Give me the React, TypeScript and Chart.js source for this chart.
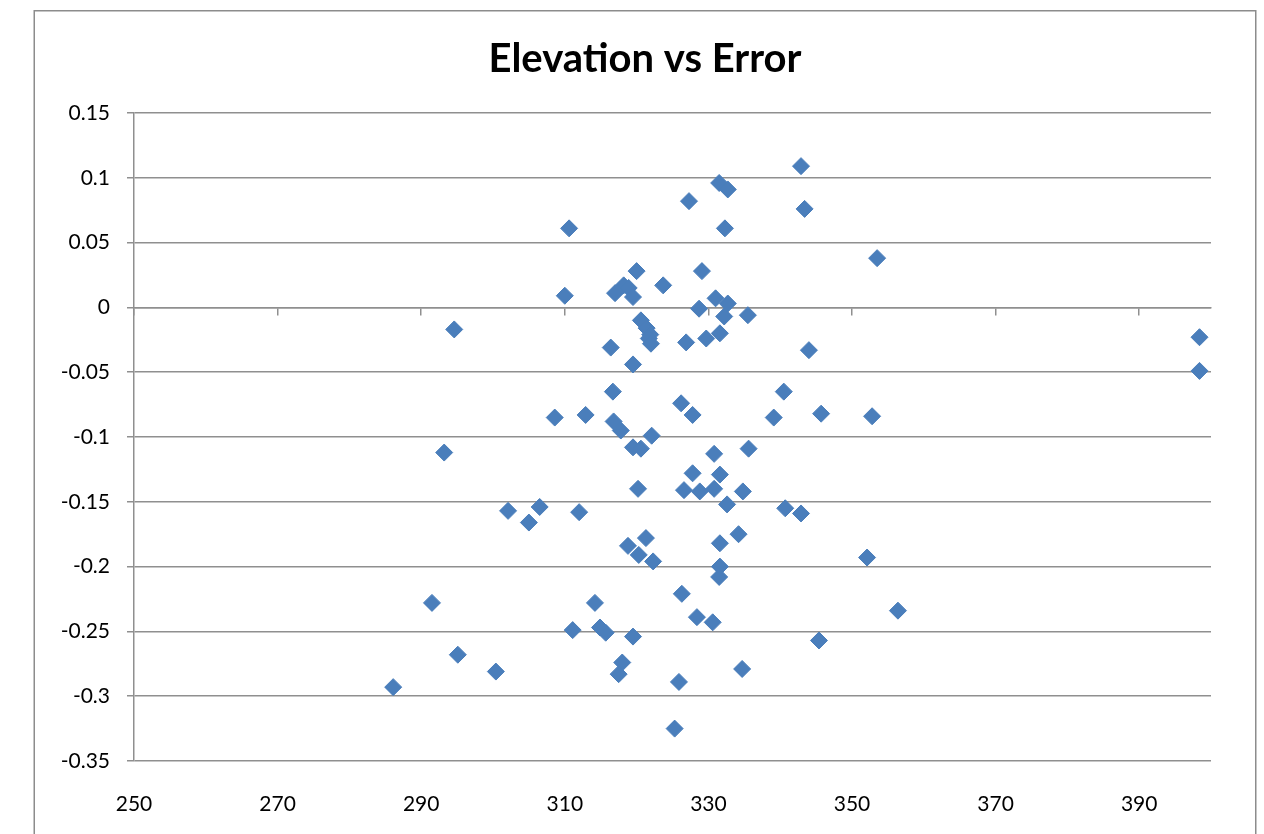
import React, { useEffect, useRef } from "react";
import { Chart, registerables } from "chart.js";

Chart.register(...registerables);

const chartTitle = "Elevation vs Error";

const elevation = [
  286.1, 291.5, 293.2, 294.6, 295.1, 300.4, 302.1, 305.0, 306.5, 308.6,
  310.0, 310.6, 311.1, 312.0, 312.9, 314.2, 314.9, 315.7, 316.4, 316.7,
  316.8, 317.0, 317.8, 318.0, 317.5, 318.2, 318.8, 318.9, 319.5, 319.5,
  319.5, 319.5, 320.0, 320.2, 320.3, 320.6, 320.6, 321.4, 321.3, 321.9,
  321.7, 322.0, 322.1, 322.3, 323.7, 325.3, 325.9, 326.3, 326.2, 326.6,
  326.9, 327.3, 327.8, 327.8, 328.4, 328.7, 328.8, 329.1, 329.7, 330.8,
  330.6, 330.8, 331.0, 331.5, 331.6, 331.6, 331.6, 331.6, 331.5, 332.2,
  332.3, 332.7, 332.6, 332.7, 334.2, 334.7, 334.8, 335.5, 335.6, 339.1,
  340.5, 340.7, 342.9, 342.9, 343.4, 344.0, 345.4, 345.7, 352.1, 352.8,
  353.5, 356.4, 398.4, 398.4,
];

const errorValues = [
  -0.293, -0.228, -0.112, -0.017, -0.268, -0.281, -0.157, -0.166, -0.154, -0.085,
  0.009, 0.061, -0.249, -0.158, -0.083, -0.228, -0.247, -0.251, -0.031, -0.065,
  -0.088, 0.011, -0.095, -0.274, -0.283, 0.017, -0.184, 0.015, 0.008, -0.044,
  -0.108, -0.254, 0.028, -0.14, -0.191, -0.01, -0.109, -0.016, -0.178, -0.021,
  -0.024, -0.028, -0.099, -0.196, 0.017, -0.325, -0.289, -0.221, -0.074, -0.141,
  -0.027, 0.082, -0.083, -0.128, -0.239, -0.001, -0.142, 0.028, -0.024, -0.113,
  -0.243, -0.14, 0.007, 0.096, -0.02, -0.129, -0.182, -0.2, -0.208, -0.007,
  0.061, 0.003, -0.152, 0.091, -0.175, -0.279, -0.142, -0.006, -0.109, -0.085,
  -0.065, -0.155, -0.159, 0.109, 0.076, -0.033, -0.257, -0.082, -0.193, -0.084,
  0.038, -0.234, -0.023, -0.049,
];

const xTickValues = [250, 270, 290, 310, 330, 350, 370, 390];
const yTickValues = [0.15, 0.1, 0.05, 0, -0.05, -0.1, -0.15, -0.2, -0.25, -0.3, -0.35];
const yTickLabels = ["0.15", "0.1", "0.05", "0", "-0.05", "-0.1", "-0.15", "-0.2", "-0.25", "-0.3", "-0.35"];

const GRID = "#8f8f8f";
const MARKER = "#4A7EBB";
const FONT = "Lato, 'Open Sans', sans-serif";

const framePlugin = {
  id: "frameAndTitle",
  beforeDraw(chart: any) {
    const ctx = chart.ctx;
    ctx.save();
    ctx.fillStyle = "#ffffff";
    ctx.fillRect(0, 0, chart.width, chart.height);
    ctx.strokeStyle = "#8c8c8c";
    ctx.lineWidth = 1.5;
    ctx.strokeRect(34.25, 10.75, 1221.5, 900);
    ctx.fillStyle = "#000000";
    ctx.font = `bold 40px ${FONT}`;
    ctx.textAlign = "center";
    ctx.textBaseline = "alphabetic";
    ctx.fillText(chartTitle, 645, 72);
    ctx.restore();
  },
};

export default function App() {
  const canvasRef = useRef<HTMLCanvasElement | null>(null);

  useEffect(() => {
    if (!canvasRef.current) return;
    const points = elevation.map((x, i) => ({ x, y: errorValues[i] }));
    const chart = new Chart(canvasRef.current, {
      type: "scatter",
      data: {
        datasets: [
          {
            label: "Error",
            data: points,
            pointStyle: "rectRot",
            pointRadius: 8.5,
            backgroundColor: MARKER,
            borderColor: MARKER,
            borderWidth: 1,
          },
        ],
      },
      options: {
        responsive: false,
        animation: false,
        events: [],
        layout: { padding: { left: 0, top: 113, right: 53, bottom: 13 } },
        plugins: {
          legend: { display: false },
          title: { display: false },
          tooltip: { enabled: false },
        },
        scales: {
          x: {
            type: "linear",
            position: "bottom",
            min: 250,
            max: 400,
            afterBuildTicks: (scale: any) => {
              scale.ticks = xTickValues.map((v) => ({ value: v }));
            },
            afterFit: (scale: any) => {
              scale.height = 60;
            },
            grid: { display: false },
            border: { display: false },
            ticks: {
              padding: 23,
              color: "#000000",
              font: { family: FONT, size: 21 },
              maxRotation: 0,
              autoSkip: false,
              callback: (v: any) => String(v),
            },
          },
          xZero: {
            type: "linear",
            axis: "x",
            position: { y: 0 },
            min: 250,
            max: 400,
            afterBuildTicks: (scale: any) => {
              scale.ticks = xTickValues.map((v) => ({ value: v }));
            },
            grid: {
              display: true,
              drawOnChartArea: false,
              drawTicks: true,
              tickLength: 7,
              color: GRID,
              lineWidth: 1.5,
            },
            border: { display: true, color: GRID, width: 1.5 },
            ticks: { display: false },
          },
          y: {
            type: "linear",
            min: -0.35,
            max: 0.15,
            afterBuildTicks: (scale: any) => {
              scale.ticks = yTickValues.map((v) => ({ value: v }));
            },
            afterFit: (scale: any) => {
              scale.width = 134;
            },
            grid: {
              color: GRID,
              lineWidth: 1.5,
              tickLength: 7,
              drawTicks: true,
            },
            border: { display: true, color: GRID, width: 1.5 },
            ticks: {
              padding: 17,
              color: "#000000",
              font: { family: FONT, size: 21 },
              autoSkip: false,
              callback: (v: any) => {
                const i = yTickValues.findIndex((t) => Math.abs(t - Number(v)) < 1e-9);
                return i >= 0 ? yTickLabels[i] : "";
              },
            },
          },
        },
      } as any,
      plugins: [framePlugin],
    });
    return () => chart.destroy();
  }, []);

  return (
    <div style={{ position: "fixed", left: 0, top: 0, width: 1264, height: 834, background: "#ffffff" }}>
      <canvas ref={canvasRef} width={1264} height={834} style={{ display: "block" }} />
    </div>
  );
}
